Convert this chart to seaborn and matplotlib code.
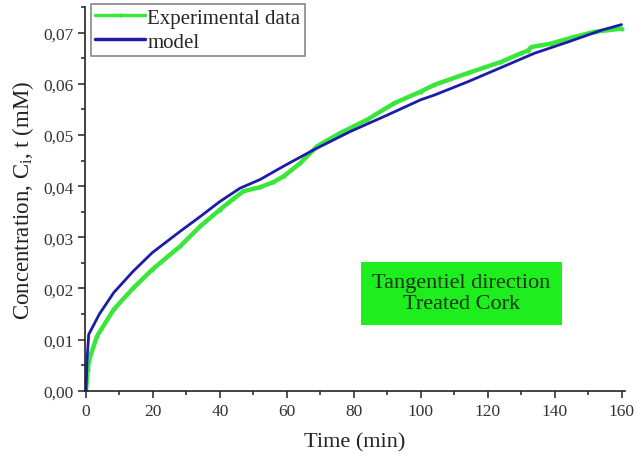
import numpy as np
import pandas as pd
import seaborn as sns
from matplotlib import pyplot as plt
from matplotlib.ticker import MultipleLocator, FuncFormatter

# experimental curve
exp_time = [0, 0.5, 1, 3.3, 8.3, 14, 19.8, 28.2, 34.2, 40, 44, 47, 52, 56, 59, 64, 69,
            76, 84, 92, 100, 104, 114, 124, 130, 132, 133, 139, 146, 152, 160]
exp_conc = [0, 0.004, 0.0062, 0.0107, 0.0159, 0.0200, 0.0237, 0.0283, 0.0322, 0.0354,
            0.0375, 0.0390, 0.0398, 0.0408, 0.0419, 0.0445, 0.0478, 0.0504, 0.0530,
            0.0562, 0.0585, 0.0598, 0.0621, 0.0643, 0.0660, 0.0665, 0.0672, 0.0679,
            0.0692, 0.0702, 0.0708]

# model curve
mod_time = [0, 0.3, 0.8, 4, 8.3, 14, 19.8, 28.2, 34.2, 40, 46, 52, 59, 68, 79, 90,
            100, 104, 114, 124, 134, 144, 154, 160]
mod_conc = [0, 0.006, 0.011, 0.0150, 0.0192, 0.0233, 0.0270, 0.0312, 0.0341, 0.0370,
            0.0396, 0.0413, 0.0439, 0.0471, 0.0507, 0.0539, 0.0569, 0.0578, 0.0604,
            0.0632, 0.0660, 0.0682, 0.0705, 0.0716]

GREEN = "#39e639"
BLUE = "#1c1ca6"

sns.set_style("ticks")
plt.rcParams["font.family"] = ["Liberation Serif", "DejaVu Serif"]
plt.rcParams["mathtext.fontset"] = "custom"
plt.rcParams["mathtext.rm"] = "Liberation Serif"
plt.rcParams["mathtext.it"] = "Liberation Serif"

df_exp = pd.DataFrame({"t": exp_time, "c": exp_conc})
df_mod = pd.DataFrame({"t": mod_time, "c": mod_conc})

fig = plt.figure(figsize=(6.37, 4.56), dpi=100)
ax = fig.add_axes([0.134, 0.141, 0.847, 0.841])

sns.lineplot(data=df_exp, x="t", y="c", ax=ax, color=GREEN, lw=3.2, marker="o",
             markersize=3, markeredgewidth=0, label="Experimental data", sort=False)
sns.lineplot(data=df_mod, x="t", y="c", ax=ax, color=BLUE, lw=2,
             label="model", sort=False)

ax.set_xlim(-0.2, 161)
ax.set_ylim(0, 0.075)
ax.xaxis.set_major_locator(MultipleLocator(20))
ax.xaxis.set_minor_locator(MultipleLocator(10))
ax.yaxis.set_major_locator(MultipleLocator(0.01))
ax.yaxis.set_minor_locator(MultipleLocator(0.005))
ax.yaxis.set_major_formatter(FuncFormatter(lambda v, p: f"{v:.2f}".replace(".", ",")))
ax.tick_params(which="major", length=5, width=1.1, labelsize=12.5, colors="#222222",
               labelcolor="#333333")
ax.tick_params(which="minor", length=3, width=1.1, colors="#222222")
for s in ["left", "bottom"]:
    ax.spines[s].set_linewidth(1.2)
    ax.spines[s].set_color("#222222")
sns.despine(ax=ax)

ax.set_xlabel("Time (min)", fontsize=16, color="#222222", labelpad=10)
ax.set_ylabel(r"Concentration, C$_\mathrm{i}$, t (mM)", fontsize=16.5, color="#222222",
              labelpad=5)

leg = ax.legend(loc="upper left", bbox_to_anchor=(91 / 637, 1 - 5 / 456),
                bbox_transform=fig.transFigure, borderaxespad=0, fontsize=15,
                fancybox=False, edgecolor="#888888", framealpha=1,
                handlelength=2.4, handletextpad=0.1, borderpad=0.2, labelspacing=0.2)
leg.get_frame().set_linewidth(1.2)
for h in leg.get_lines():
    h.set_markevery([1])
    h.set_linewidth(2.5)

ax.text(112.2, 0.0191, "Tangentiel direction\nTreated Cork", ha="center", va="center",
        fontsize=16, color="#153315", linespacing=1.2,
        bbox=dict(boxstyle="square,pad=0.5", facecolor="#1eee1e", edgecolor="none"))

fig.savefig("out.png", dpi=100)
